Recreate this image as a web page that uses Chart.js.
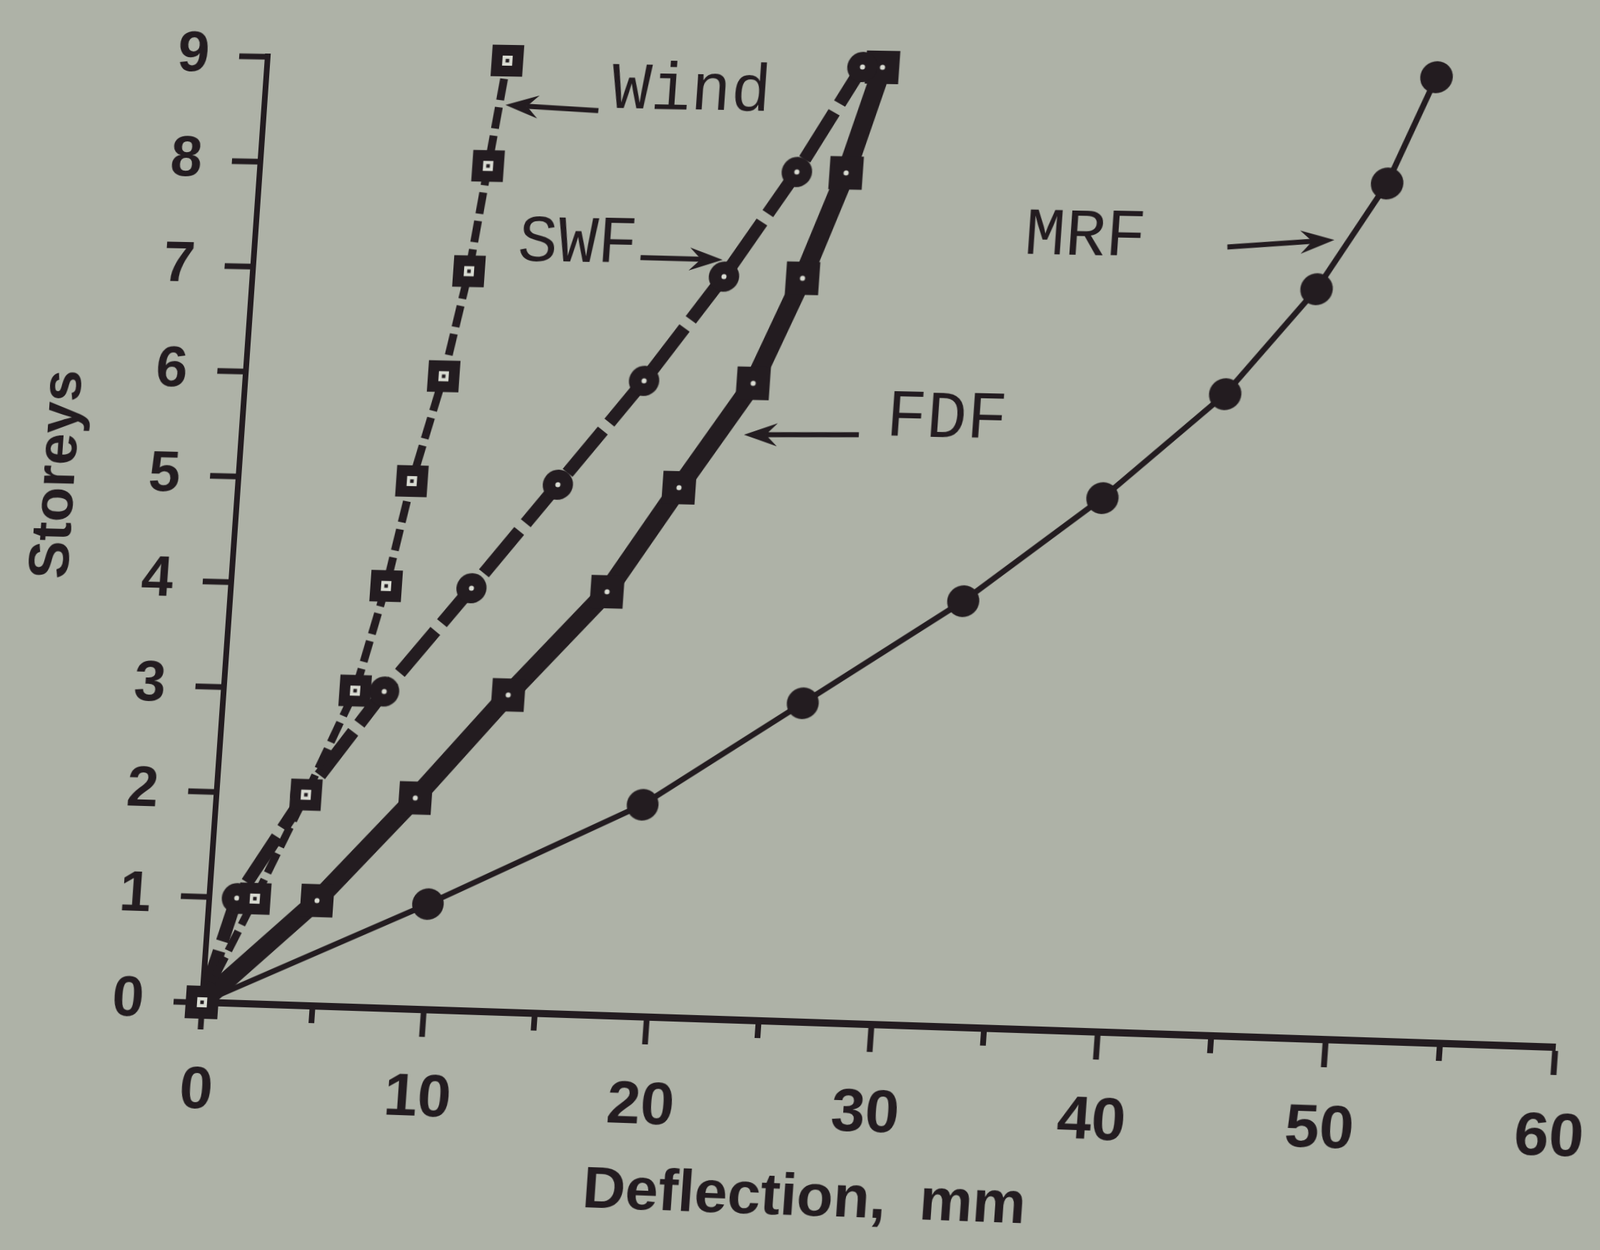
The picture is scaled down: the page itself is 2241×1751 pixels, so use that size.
<!DOCTYPE html>
<html><head><meta charset="utf-8">
<script src="https://cdn.jsdelivr.net/npm/chart.js@4.4.1/dist/chart.umd.min.js"></script>
<style>
html,body{margin:0;padding:0;background:#aeb2a7;overflow:hidden;width:2241px;height:1751px;}
#c{position:absolute;left:0;top:0;transform-origin:0 0;}
</style></head><body>
<canvas id="c" width="2400" height="1800" style="width:2400px;height:1800px"></canvas>
<script>
// ---------------- data ----------------
const storeys  = [0, 1, 2, 3, 4, 5, 6, 7, 8, 9];
const windDefl = [0, 2.06, 4.04, 5.93, 7.00, 7.83, 8.93, 9.74, 10.27, 10.81];
const swfDefl  = [0, 1.24, 4.00, 7.24, 10.84, 14.39, 17.92, 21.16, 24.08, 26.67];
const fdfDefl  = [0, 4.87, 8.97, 12.82, 16.92, 19.81, 22.79, 24.66, 26.27, 27.56];
const mrfDefl  = [0, 9.87, 19.17, 25.98, 32.77, 38.59, 43.66, 47.34, 50.10, 51.93];
const xTickValues = [0, 10, 20, 30, 40, 50, 60];
const yTickValues = [0, 1, 2, 3, 4, 5, 6, 7, 8, 9];
const seriesNames = ['Wind', 'SWF', 'FDF', 'MRF'];
const xTitle = 'Deflection,  mm';
const yTitle = 'Storeys';

// ---------------- styling / layout ----------------
const INK = '#231c20';
const LIGHT = '#d9dbd2';
const annot = {
  labels: [[19.12, 8.74], [14.53, 7.28], [31.48, 5.70], [37.04, 7.44]],
  arrows: [[15.04, 8.543, 10.86, 8.58], [17.38, 7.162, 21.05, 7.158], [27.64, 5.539, 22.54, 5.514], [43.31, 7.377, 47.97, 7.464]],
  xTitlePos: [27.53, -1.657],
  yTitlePos: [-8.17, 4.98]
};

function marker(kind) {
  const s = 50, c = document.createElement('canvas');
  c.width = s; c.height = s;
  const g = c.getContext('2d');
  g.fillStyle = INK;
  if (kind === 'wind') {
    g.fillRect(3, 3, 44, 44);
    g.fillStyle = LIGHT; g.fillRect(18, 18, 14, 14);
    g.fillStyle = INK; g.fillRect(22.5, 22.5, 5, 5);
  } else if (kind === 'swf') {
    g.beginPath(); g.arc(25, 25, 21, 0, Math.PI * 2); g.fill();
    g.fillStyle = LIGHT; g.beginPath(); g.arc(25, 25, 3.5, 0, Math.PI * 2); g.fill();
  } else if (kind === 'fdf') {
    g.fillRect(2, 2, 46, 46);
    g.fillStyle = LIGHT; g.beginPath(); g.arc(25, 25, 3.5, 0, Math.PI * 2); g.fill();
  } else {
    g.beginPath(); g.arc(25, 25, 22, 0, Math.PI * 2); g.fill();
  }
  return c;
}

function series(vals) { return storeys.map((s, i) => ({ x: vals[i], y: s })); }

const annotPlugin = {
  id: 'annot',
  afterDatasetsDraw(chart) {
    const xs = chart.scales.x, ys = chart.scales.y, ctx = chart.ctx;
    const P = (x, s) => [xs.getPixelForValue(x), ys.getPixelForValue(s)];
    ctx.save();
    // minor ticks on x axis
    ctx.strokeStyle = INK; ctx.lineWidth = 8; ctx.lineCap = 'butt';
    const bottom = chart.chartArea.bottom;
    for (let v = 5; v < 60; v += 10) {
      const u = xs.getPixelForValue(v);
      ctx.beginPath(); ctx.moveTo(u, bottom); ctx.lineTo(u, bottom + 24); ctx.stroke();
    }
    // arrows
    ctx.lineWidth = 7; ctx.fillStyle = INK;
    annot.arrows.forEach(a => {
      const [x0, y0] = P(a[0], a[1]), [x1, y1] = P(a[2], a[3]);
      const ang = Math.atan2(y1 - y0, x1 - x0), hl = 40, hw = 16;
      const cs = Math.cos(ang), sn = Math.sin(ang);
      const bx = x1 - hl * cs, by = y1 - hl * sn;
      ctx.beginPath(); ctx.moveTo(x0, y0); ctx.lineTo(bx + 10 * cs, by + 10 * sn); ctx.stroke();
      ctx.beginPath();
      ctx.moveTo(x1, y1);
      ctx.lineTo(bx - 6 * cs + hw * sn, by - 6 * sn - hw * cs);
      ctx.lineTo(bx + 10 * cs, by + 10 * sn);
      ctx.lineTo(bx - 6 * cs - hw * sn, by - 6 * sn + hw * cs);
      ctx.closePath(); ctx.fill();
    });
    // series labels
    ctx.font = '92px "Liberation Mono", "DejaVu Sans Mono", monospace';
    ctx.textAlign = 'center'; ctx.textBaseline = 'middle';
    seriesNames.forEach((n, i) => {
      const [x, y] = P(annot.labels[i][0], annot.labels[i][1]);
      ctx.fillText(n, x, y);
    });
    // axis titles
    ctx.font = 'bold 82px "Liberation Sans", Arial, sans-serif';
    let [tx, ty] = P(annot.xTitlePos[0], annot.xTitlePos[1]);
    ctx.fillText(xTitle, tx, ty);
    [tx, ty] = P(annot.yTitlePos[0], annot.yTitlePos[1]);
    ctx.translate(tx, ty); ctx.rotate(-Math.PI / 2);
    ctx.font = 'bold 80px "Liberation Sans", Arial, sans-serif';
    ctx.fillText(yTitle, 0, 0);
    ctx.restore();
  }
};

const common = { fill: false, tension: 0, clip: false, borderColor: INK, pointRadius: 20, borderCapStyle: 'butt', borderJoinStyle: 'round' };

const chart = new Chart(document.getElementById('c'), {
  type: 'line',
  data: {
    datasets: [
      Object.assign({ label: seriesNames[0], data: series(windDefl), borderWidth: 11, borderDash: [30, 10], pointStyle: marker('wind') }, common),
      Object.assign({ label: seriesNames[1], data: series(swfDefl), borderWidth: 18, borderDash: [75, 14], pointStyle: marker('swf') }, common),
      Object.assign({ label: seriesNames[2], data: series(fdfDefl), borderWidth: 26, pointStyle: marker('fdf') }, common),
      Object.assign({ label: seriesNames[3], data: series(mrfDefl), borderWidth: 8, pointStyle: marker('mrf') }, common)
    ]
  },
  options: {
    responsive: false, animation: false,
    layout: { padding: { left: 0, right: 180, top: 100, bottom: 175 } },
    plugins: { legend: { display: false }, tooltip: { enabled: false } },
    scales: {
      x: {
        type: 'linear', min: xTickValues[0], max: xTickValues[xTickValues.length - 1],
        afterFit: s => { s.height = 200; },
        ticks: { stepSize: 10, color: INK, padding: 36, autoSkip: false, maxRotation: 0,
                 font: { family: '"Liberation Sans", Arial, sans-serif', size: 84, weight: 'bold' } },
        grid: { display: true, drawOnChartArea: false, drawTicks: true, tickLength: 38, tickWidth: 8, tickColor: INK },
        border: { display: true, color: INK, width: 10 }
      },
      y: {
        type: 'linear', min: yTickValues[0], max: yTickValues[yTickValues.length - 1],
        afterFit: s => { s.width = 360; },
        ticks: { stepSize: 1, color: INK, padding: 42, autoSkip: false,
                 font: { family: '"Liberation Sans", Arial, sans-serif', size: 80, weight: 'bold' } },
        grid: { display: true, drawOnChartArea: false, drawTicks: true, tickLength: 40, tickWidth: 8, tickColor: INK },
        border: { display: true, color: INK, width: 8 }
      }
    }
  },
  plugins: [annotPlugin]
});

// perspective of the photographed page (projective map data -> screen)
(function () {
  const xs = chart.scales.x, ys = chart.scales.y;
  const L = xs.getPixelForValue(0), kx = (xs.getPixelForValue(60) - L) / 60;
  const B0 = ys.getPixelForValue(0), ky = (B0 - ys.getPixelForValue(9)) / 9;
  const A1 = 30.8, A2 = 10.22, A3 = 283, B1 = 0.522, B2 = -147.22, B3 = 1404, C = -3.6e-4;
  const m11 = A1 / kx, m21 = -A2 / ky, m41 = A3 - A1 * L / kx + A2 * B0 / ky;
  const m12 = B1 / kx, m22 = -B2 / ky, m42 = B3 - B1 * L / kx + B2 * B0 / ky;
  const m14 = C / kx, m44 = 1 - C * L / kx;
  document.getElementById('c').style.transform =
    `matrix3d(${m11},${m12},0,${m14},${m21},${m22},0,0,0,0,1,0,${m41},${m42},0,${m44})`;
})();
</script>
</body></html>
